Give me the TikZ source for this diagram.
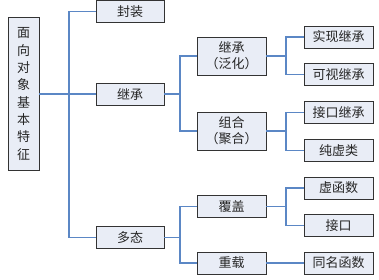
\documentclass[tikz,border=0pt]{standalone}
\usepackage{fontspec}
\newfontfamily\cjk{Noto Sans CJK SC}
\usetikzlibrary{shadows}
\definecolor{boxfill}{HTML}{E9EDF6}
\definecolor{linkc}{HTML}{5B87C5}
\tikzset{
  x=1pt,y=-1pt,
  box/.style={draw=black!80,line width=0.8pt,fill=boxfill,font=\cjk\fontsize{13}{16}\selectfont,
    text=black!85,inner sep=0pt,minimum width=68pt,minimum height=22pt,align=center,
    drop shadow={shadow xshift=0.7pt,shadow yshift=-0.7pt,fill=black!45,opacity=1}},
  tall/.style={box,minimum height=38pt},
  link/.style={draw=linkc,line width=1.1pt},
}
\begin{document}
\begin{tikzpicture}
\useasboundingbox (0,0) rectangle (379,279);
% root
\node[box,minimum width=31pt,minimum height=153pt,font=\cjk\fontsize{13}{17.3}\selectfont] (root) at (23.5,94)
  {面\\向\\对\\象\\基\\本\\特\\征};
% level 1
\node[box] (fz) at (130,11.3) {封装};
\node[box] (jc) at (130,94) {继承};
\node[box] (dt) at (130,237.5) {多态};
% level 2
\node[tall,minimum width=69pt] (jf) at (231.5,56) {继承\\（泛化）};
\node[tall,minimum width=69pt] (zh) at (231.5,131) {组合\\（聚合）};
\node[box,minimum width=69pt] (fg) at (231.5,206.5) {覆盖};
\node[box,minimum width=69pt] (cz) at (231.5,263) {重载};
% level 3
\node[box,minimum width=69pt] (sx) at (338.5,37) {实现继承};
\node[box,minimum width=69pt] (ks) at (338.5,74.5) {可视继承};
\node[box,minimum width=69pt] (jk) at (338.5,112.5) {接口继承};
\node[box,minimum width=69pt] (cx) at (338.5,150.5) {纯虚类};
\node[box,minimum width=69pt] (xh) at (338.5,188) {虚函数};
\node[box,minimum width=69pt] (jkk) at (338.5,225.5) {接口};
\node[box,minimum width=69pt] (tm) at (338.5,263) {同名函数};
% trunk coordinates
\coordinate (t1) at (69,0);
\coordinate (t2) at (180,0);
\coordinate (t3) at (286,0);
% connectors
\draw[link] (root.east) -- (root.east -| t1);
\draw[link] (fz.west) -- (fz.west -| t1) |- (dt.west);
\draw[link] (jc.west) -- (jc.west -| t1);
\draw[link] (jc.east) -- (jc.east -| t2);
\draw[link] (jf.west) -- (jf.west -| t2) |- (zh.west);
\draw[link] (dt.east) -- (dt.east -| t2);
\draw[link] (fg.west) -- (fg.west -| t2) |- (cz.west);
\draw[link] (jf.east) -- (jf.east -| t3);
\draw[link] (sx.west) -- (sx.west -| t3) |- (ks.west);
\draw[link] (zh.east) -- (zh.east -| t3);
\draw[link] (jk.west) -- (jk.west -| t3) |- (cx.west);
\draw[link] (fg.east) -- (fg.east -| t3);
\draw[link] (xh.west) -- (xh.west -| t3) |- (jkk.west);
\draw[link] (cz.east) -- (tm.west);
\end{tikzpicture}
\end{document}
